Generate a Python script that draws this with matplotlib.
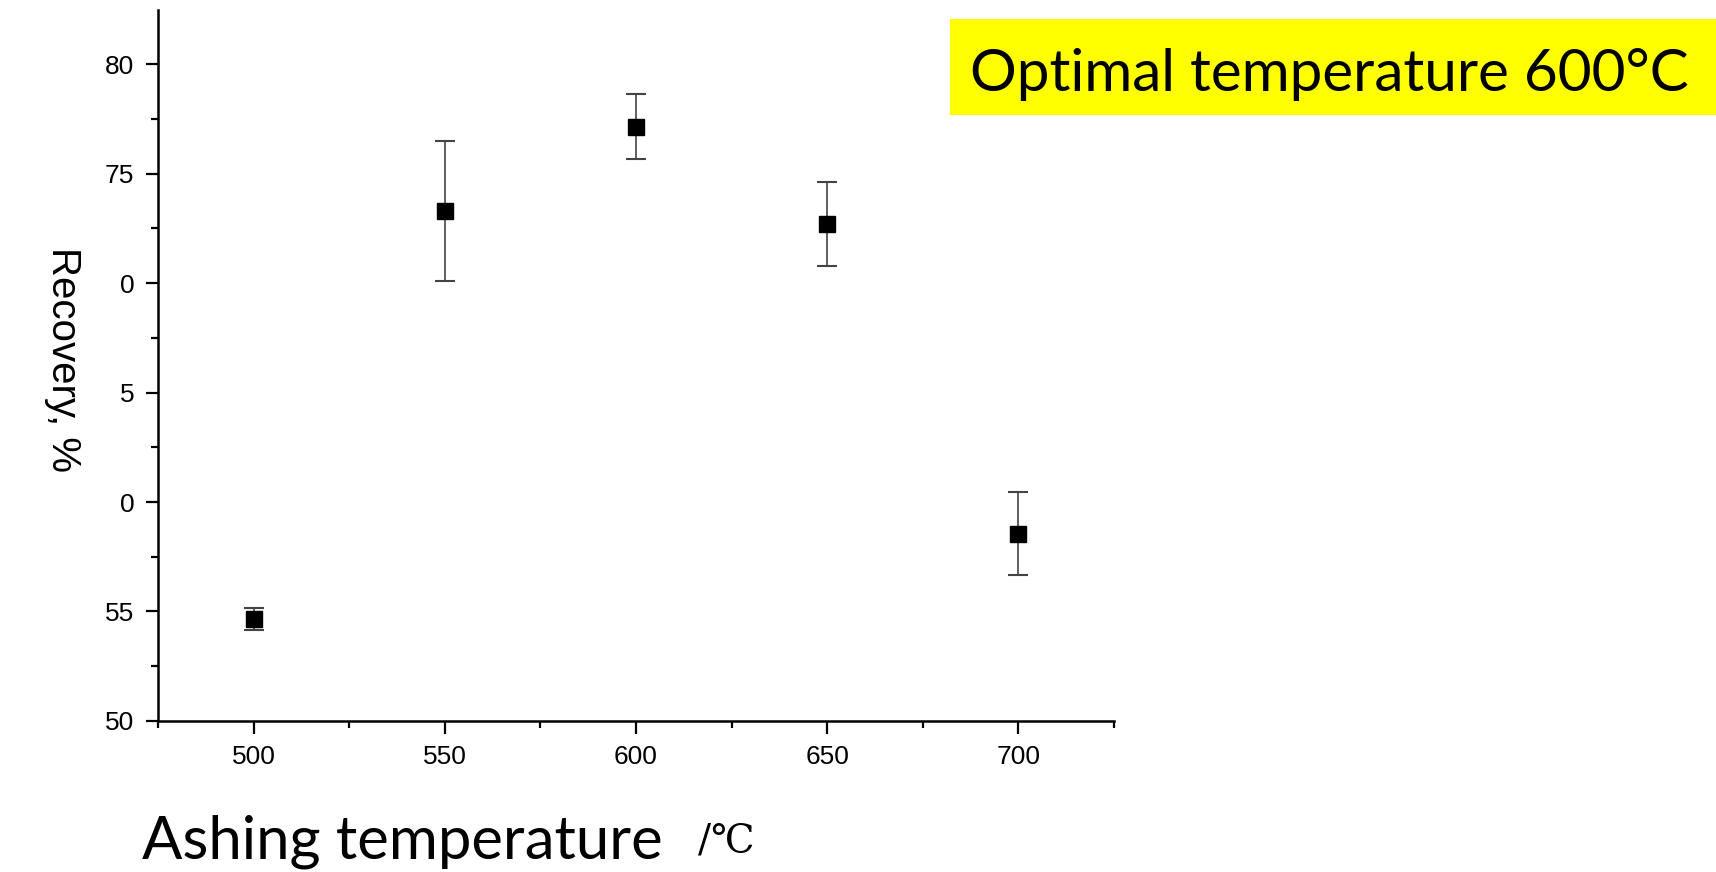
import numpy as np
import matplotlib.pyplot as plt
from matplotlib.patches import Rectangle
from matplotlib.ticker import MultipleLocator, FixedLocator

# ashing temperature (C) vs recovery (%)
temps = [500, 550, 600, 650, 700]
recovery = [54.65, 73.3, 77.15, 72.7, 58.55]
err = [0.5, 3.2, 1.5, 1.9, 1.9]

ytick_vals = [50, 55, 60, 65, 70, 75, 80]
ytick_labels = ['50', '55', '0', '5', '0', '75', '80']
xtick_vals = [500, 550, 600, 650, 700]

fig = plt.figure(figsize=(17.16, 8.72), dpi=100)
ax = fig.add_axes([0.0921, 0.1732, 0.557, 0.8153])

ax.errorbar(temps, recovery, yerr=err, fmt='s', color='black', markersize=12,
            ecolor='#444444', elinewidth=1.2, capsize=7, capthick=1.5)

ax.set_xlim(475, 725)
ax.set_ylim(50, 82.47)
ax.yaxis.set_major_locator(FixedLocator(ytick_vals))
ax.set_yticklabels(ytick_labels)
ax.xaxis.set_major_locator(FixedLocator(xtick_vals))
ax.xaxis.set_minor_locator(MultipleLocator(25))
ax.yaxis.set_minor_locator(MultipleLocator(2.5))

for s in ['top', 'right']:
    ax.spines[s].set_visible(False)
for s in ['left', 'bottom']:
    ax.spines[s].set_linewidth(1.8)

ax.tick_params(which='major', direction='out', length=9, width=1.6, pad=8,
               labelsize=19)
ax.tick_params(which='minor', direction='out', length=5, width=1.6)
for lab in ax.get_xticklabels() + ax.get_yticklabels():
    lab.set_family('Liberation Sans')

# axis titles placed as in the slide
fig.text(0.037, 0.588, 'Recovery, %', rotation=-90, ha='center', va='center',
         fontsize=29, family='Liberation Sans')
fig.text(0.083, 0.016, 'Ashing temperature', ha='left', va='baseline',
         fontsize=43, family='Lato')
fig.text(0.407, 0.024, '/℃', ha='left', va='baseline', fontsize=28,
         family=['DejaVu Serif', 'Noto Sans CJK SC'])

# yellow highlight box
fig.patches.append(Rectangle((0.5536, 0.868), 0.4464, 0.1107, transform=fig.transFigure,
                             facecolor='#ffff00', edgecolor='none', zorder=0))
fig.text(0.565, 0.8956, 'Optimal temperature 600°C', ha='left', va='baseline',
         fontsize=42, family='Lato')

fig.savefig('out.png', dpi=100)
